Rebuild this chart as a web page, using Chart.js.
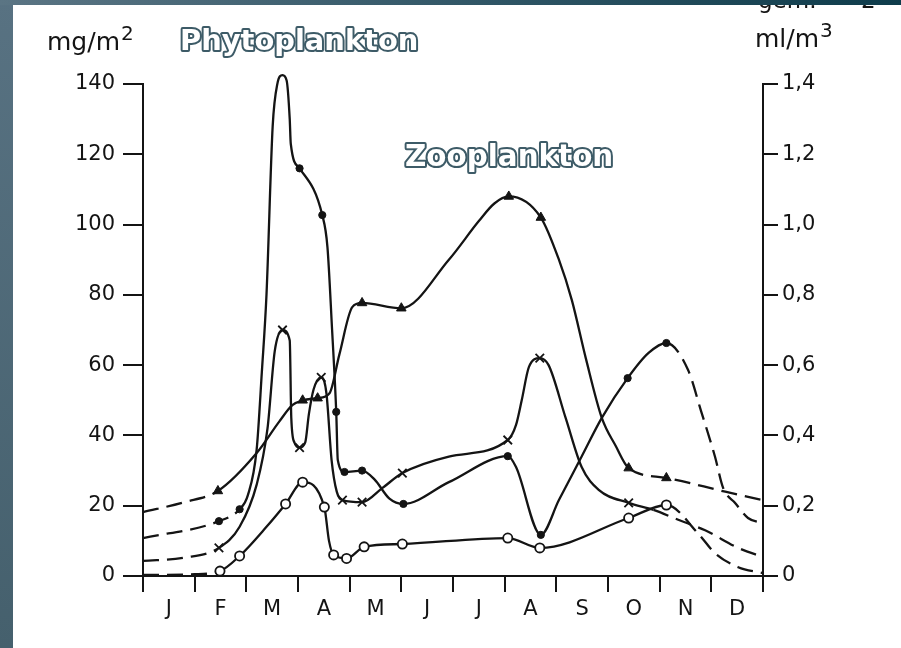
<!DOCTYPE html>
<html>
<head>
<meta charset="utf-8">
<script src="https://cdn.jsdelivr.net/npm/chart.js@4.4.1/dist/chart.umd.min.js"></script>
<style>
  html, body { margin: 0; padding: 0; }
  body {
    width: 901px; height: 648px; overflow: hidden; position: relative;
    background: linear-gradient(180deg, #587282 0%, #45606d 100%);
  }
  #topband {
    position: absolute; left: 0; top: 0; width: 901px; height: 5px;
    background: linear-gradient(90deg, #5b7584 0%, #2f5565 55%, #0e3c4b 100%);
    z-index: 2;
  }
  #sheet { position: absolute; left: 13px; top: 5px; width: 888px; height: 643px; background: #fff; }
  canvas { display: block; }
</style>
</head>
<body>
<div id="topband"></div>
<div id="sheet"><canvas id="chart" width="888" height="643"></canvas></div>
<script>
// Month initials along the time axis (tick value i + 0.5 is the middle of month i)
const monthLabels = ['J', 'F', 'M', 'A', 'M', 'J', 'J', 'A', 'S', 'O', 'N', 'D'];

// Phytoplankton (mg/m²) – filled dots
const phytoMonth   = [0, 1.47, 1.87, 2.03, 2.20, 2.30, 2.39, 2.51, 2.60, 2.70, 2.78, 2.84, 2.86, 3.03, 3.47, 3.57, 3.66, 3.74, 3.77, 3.90, 4.24, 4.48, 4.77, 5.04, 5.92, 7.06, 7.22, 7.70, 8.05, 8.49, 8.88, 9.38, 9.78, 10.13, 10.55, 10.80, 11.07, 11.23, 11.46, 11.71, 12];
const phytoValue   = [10.8, 15.6, 19.0, 23, 36, 58, 80, 128, 140, 142.5, 141, 130, 123, 116, 102.7, 93.6, 70, 46.7, 33, 29.6, 30, 27.5, 22, 20.5, 26.7, 34.1, 31, 11.7, 21.6, 34, 45, 56.3, 63.4, 66.3, 58.6, 47, 34, 25, 20.8, 16.5, 15];
const phytoSampled = [0, 1, 1, 0, 0, 0, 0, 0, 0, 1, 0, 0, 0, 1, 1, 0, 0, 1, 0, 1, 1, 0, 0, 1, 0, 1, 0, 1, 0, 0, 0, 1, 0, 1, 0, 0, 0, 0, 0, 0, 0];
const phytoMeasured = [1.87, 10.13];

// Second phytoplankton fraction (mg/m²) – crosses
const crossMonth   = [0, 0.8, 1.47, 1.87, 2.20, 2.41, 2.55, 2.70, 2.84, 2.87, 2.93, 3.03, 3.14, 3.21, 3.30, 3.45, 3.55, 3.65, 3.75, 3.86, 4.24, 4.63, 5.02, 5.92, 7.06, 7.22, 7.33, 7.47, 7.68, 7.85, 8.18, 8.49, 8.82, 9.40, 9.88, 10.36, 10.88, 11.52, 12];
const crossValue   = [4.3, 5.2, 8, 14, 26, 42, 64, 70, 67, 45, 38, 36.5, 38, 46, 53, 56.5, 52, 33, 24, 21.6, 21, 25, 29.3, 34, 38.7, 43, 50, 59.5, 62, 60, 45, 31, 24.5, 20.8, 18.8, 16, 13, 8, 5.4];
const crossSampled = [0, 0, 1, 0, 0, 0, 0, 1, 0, 0, 0, 1, 0, 0, 0, 1, 0, 0, 0, 1, 1, 0, 1, 0, 1, 0, 0, 0, 1, 0, 0, 0, 0, 1, 0, 0, 0, 0, 0];
const crossMeasured = [1.47, 9.88];

// Zooplankton (ml/m³) – triangles, right axis
const zooMonth   = [0, 0.8, 1.45, 2.20, 2.64, 2.89, 3.09, 3.38, 3.61, 3.80, 4.05, 4.24, 5.00, 5.92, 6.50, 6.80, 7.08, 7.70, 8.05, 8.30, 8.57, 8.88, 9.15, 9.40, 10.13, 11.27, 12];
const zooValue   = [0.182, 0.21, 0.242, 0.35, 0.44, 0.486, 0.50, 0.506, 0.52, 0.63, 0.765, 0.777, 0.762, 0.90, 1.01, 1.06, 1.08, 1.02, 0.90, 0.785, 0.62, 0.45, 0.37, 0.307, 0.279, 0.24, 0.216];
const zooSampled = [0, 0, 1, 0, 0, 0, 1, 1, 0, 0, 0, 1, 1, 0, 0, 0, 1, 1, 0, 0, 0, 0, 0, 1, 1, 0, 0];
const zooMeasured = [1.45, 9.40];

// Third fraction (mg/m²) – open circles
const ringMonth   = [0, 1.0, 1.49, 1.87, 2.39, 2.76, 3.09, 3.51, 3.60, 3.69, 3.94, 4.28, 5.02, 7.06, 7.68, 9.40, 10.13, 10.75, 11.07, 11.52, 12];
const ringValue   = [0.3, 0.5, 1.4, 5.7, 14, 20.5, 26.7, 19.6, 10, 6, 5, 8.3, 9.1, 10.8, 8, 16.5, 20.2, 12, 6.5, 2.5, 0.8];
const ringSampled = [0, 0, 1, 1, 0, 1, 1, 1, 0, 1, 1, 1, 1, 1, 1, 1, 1, 0, 0, 0, 0];
const ringMeasured = [1.49, 10.13];

// Axis ranges and tick values
const leftTicks  = [0, 20, 40, 60, 80, 100, 120, 140];
const rightTicks = [0, 0.2, 0.4, 0.6, 0.8, 1.0, 1.2, 1.4];

const INK = '#141414';
const SLATE = '#3d5b67';

Chart.defaults.font.family = '"DejaVu Sans", "Liberation Sans", sans-serif';
Chart.defaults.font.size = 21;
Chart.defaults.color = INK;

function points(xs, ys) { return xs.map((x, i) => ({ x, y: ys[i] })); }

// Extrapolated stretches outside the measured span are dashed
function dashOutside(span) {
  return ctx => (ctx.p1.parsed.x <= span[0] + 1e-6 || ctx.p0.parsed.x >= span[1] - 1e-6) ? [16, 8] : undefined;
}

function series(xs, ys, sampled, span, axis, marker) {
  return Object.assign({
    data: points(xs, ys),
    yAxisID: axis,
    borderColor: INK,
    borderWidth: 2.3,
    tension: 0.4,
    cubicInterpolationMode: 'monotone',
    fill: false,
    clip: { left: 4, top: 20, right: 4, bottom: 4 },
    segment: { borderDash: dashOutside(span) },
    pointHoverRadius: 0
  }, marker(sampled));
}

const dotMarker = s => ({
  pointStyle: 'circle',
  pointRadius: ctx => s[ctx.dataIndex] ? 3.6 : 0,
  pointBackgroundColor: INK, pointBorderColor: INK, pointBorderWidth: 1
});
const crossMarker = s => ({
  pointStyle: 'crossRot',
  pointRadius: ctx => s[ctx.dataIndex] ? 6 : 0,
  pointBorderColor: INK, pointBorderWidth: 1.8
});
const triangleMarker = s => ({
  pointStyle: 'triangle',
  pointRadius: ctx => s[ctx.dataIndex] ? 5.5 : 0,
  pointBackgroundColor: INK, pointBorderColor: INK, pointBorderWidth: 1
});
const ringMarker = s => ({
  pointStyle: 'circle',
  pointRadius: ctx => s[ctx.dataIndex] ? 4.6 : 0,
  pointBackgroundColor: '#ffffff', pointBorderColor: INK, pointBorderWidth: 1.8
});

function writeUnit(c, base, sup, x, y) {
  c.font = '25px "DejaVu Sans"';
  c.fillText(base, x, y);
  const w = c.measureText(base).width;
  c.font = '20px "DejaVu Sans"';
  c.fillText(sup, x + w + 1, y - 10);
}

function outlined(c, text, x, y, width) {
  let size = 28;
  c.font = 'bold ' + size + 'px "DejaVu Sans"';
  size = size * width / c.measureText(text).width;
  c.font = 'bold ' + size.toFixed(1) + 'px "DejaVu Sans"';
  c.lineJoin = 'round';
  c.lineWidth = 4;
  c.strokeStyle = SLATE;
  c.strokeText(text, x, y);
  c.fillStyle = '#ffffff';
  c.fillText(text, x, y);
}

const captions = {
  id: 'captions',
  afterDraw(chart) {
    const c = chart.ctx;
    c.save();
    c.textAlign = 'left';
    c.textBaseline = 'alphabetic';
    c.fillStyle = INK;
    writeUnit(c, 'mg/m', '2', 34, 45);
    writeUnit(c, 'ml/m', '3', 742, 42);
    c.font = '23px "DejaVu Sans"';
    c.fillText('gem.', 745, 3);
    c.fillText('2', 848, 3);
    outlined(c, 'Phytoplankton', 167, 45, 238);
    outlined(c, 'Zooplankton', 392, 161, 208);
    c.restore();
  }
};

new Chart(document.getElementById('chart'), {
  type: 'line',
  data: {
    datasets: [
      series(zooMonth, zooValue, zooSampled, zooMeasured, 'yR', triangleMarker),
      series(phytoMonth, phytoValue, phytoSampled, phytoMeasured, 'yL', dotMarker),
      series(crossMonth, crossValue, crossSampled, crossMeasured, 'yL', crossMarker),
      series(ringMonth, ringValue, ringSampled, ringMeasured, 'yL', ringMarker)
    ]
  },
  options: {
    responsive: false,
    animation: false,
    devicePixelRatio: 1,
    layout: { padding: { top: 79, left: 0, right: 0, bottom: 0 } },
    plugins: { legend: { display: false }, tooltip: { enabled: false } },
    events: [],
    scales: {
      x: {
        type: 'linear', position: 'bottom', min: 0, max: 12,
        afterBuildTicks: ax => {
          const t = [];
          for (let i = 0; i <= monthLabels.length; i++) {
            t.push({ value: i });
            if (i < monthLabels.length) t.push({ value: i + 0.5 });
          }
          ax.ticks = t;
        },
        afterFit: ax => { ax.height = 72; },
        grid: {
          drawOnChartArea: false, drawTicks: true, tickLength: 16, lineWidth: 2,
          tickColor: ctx => (ctx.tick && Number.isInteger(ctx.tick.value)) ? INK : 'rgba(0,0,0,0)'
        },
        border: { display: true, color: INK, width: 2 },
        ticks: {
          autoSkip: false, maxRotation: 0, minRotation: 0, padding: 5, color: INK,
          font: { size: 21 },
          callback: v => Number.isInteger(v) ? '' : monthLabels[Math.floor(v)]
        }
      },
      yL: {
        type: 'linear', position: 'left', min: 0, max: 140,
        afterBuildTicks: ax => { ax.ticks = leftTicks.map(v => ({ value: v })); },
        afterFit: ax => { ax.width = 130; },
        grid: { drawOnChartArea: false, drawTicks: true, tickLength: 20, lineWidth: 2, tickColor: INK },
        border: { display: true, color: INK, width: 2 },
        ticks: { padding: 8, color: INK, font: { size: 21 }, callback: v => String(v) }
      },
      yR: {
        type: 'linear', position: 'right', min: 0, max: 1.4,
        afterBuildTicks: ax => { ax.ticks = rightTicks.map(v => ({ value: v })); },
        afterFit: ax => { ax.width = 138; },
        grid: { drawOnChartArea: false, drawTicks: true, tickLength: 15, lineWidth: 2, tickColor: INK },
        border: { display: true, color: INK, width: 2 },
        ticks: { padding: 4, color: INK, font: { size: 21 }, callback: v => v === 0 ? '0' : v.toFixed(1).replace('.', ',') }
      }
    }
  },
  plugins: [captions]
});
</script>
</body>
</html>
